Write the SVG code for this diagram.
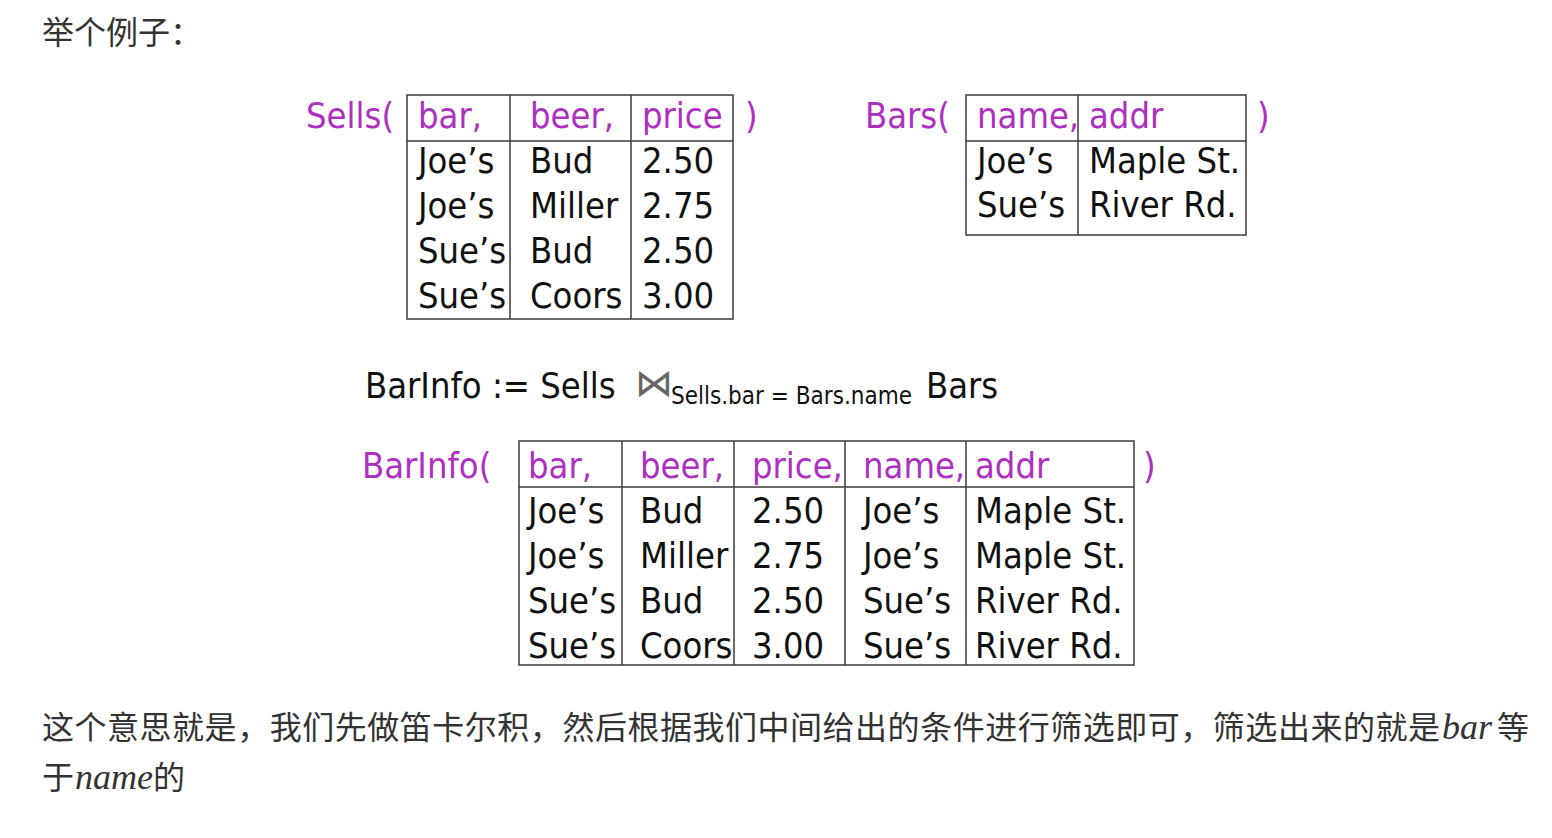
<svg xmlns="http://www.w3.org/2000/svg" width="1552" height="838" viewBox="0 0 1552 838">
<style>
.cjk{font-family:"Noto Sans CJK SC","Noto Sans",sans-serif;font-size:32px;fill:#333}
.mi{font-family:"Liberation Serif","DejaVu Serif",serif;font-style:italic;font-size:36px;fill:#333}
.t{font-family:"DejaVu Sans Condensed","DejaVu Sans",sans-serif;font-stretch:condensed;font-size:36px;fill:#111}
.h{font-family:"DejaVu Sans Condensed","DejaVu Sans",sans-serif;font-stretch:condensed;font-size:36px;fill:#AE30C0}
.sub{font-family:"DejaVu Sans Condensed","DejaVu Sans",sans-serif;font-stretch:condensed;font-size:24px;fill:#111}
.box{fill:none;stroke:#3a3a3a;stroke-width:1.5}
.ln{stroke:#3a3a3a;stroke-width:1.5}
</style>
<rect width="1552" height="838" fill="#fff"/>
<text class="cjk" x="42" y="44">举个例子：</text>

<g id="sells">
<text class="h" x="306" y="128">Sells(</text>
<rect class="box" x="407" y="95" width="326" height="224"/>
<line class="ln" x1="407" y1="141" x2="733" y2="141"/>
<line class="ln" x1="510" y1="95" x2="510" y2="319"/>
<line class="ln" x1="631" y1="95" x2="631" y2="319"/>
<text class="h" x="418" y="128">bar,</text>
<text class="h" x="530" y="128">beer,</text>
<text class="h" x="642" y="128">price</text>
<text class="h" x="745" y="128">)</text>
<text class="t" x="418" y="173">Joe’s</text><text class="t" x="530" y="173">Bud</text><text class="t" x="642" y="173">2.50</text>
<text class="t" x="418" y="218">Joe’s</text><text class="t" x="530" y="218">Miller</text><text class="t" x="642" y="218">2.75</text>
<text class="t" x="418" y="263">Sue’s</text><text class="t" x="530" y="263">Bud</text><text class="t" x="642" y="263">2.50</text>
<text class="t" x="418" y="308">Sue’s</text><text class="t" x="530" y="308">Coors</text><text class="t" x="642" y="308">3.00</text>
</g>

<g id="bars">
<text class="h" x="865" y="128">Bars(</text>
<rect class="box" x="966" y="95" width="280" height="140"/>
<line class="ln" x1="966" y1="141" x2="1246" y2="141"/>
<line class="ln" x1="1078" y1="95" x2="1078" y2="235"/>
<text class="h" x="977" y="128">name,</text>
<text class="h" x="1089" y="128">addr</text>
<text class="h" x="1257" y="128">)</text>
<text class="t" x="977" y="173">Joe’s</text><text class="t" x="1089" y="173">Maple St.</text>
<text class="t" x="977" y="217">Sue’s</text><text class="t" x="1089" y="217">River Rd.</text>
</g>

<g id="formula">
<text class="t" x="365" y="398">BarInfo := Sells</text>
<text x="635" y="396" font-family="DejaVu Sans,sans-serif" font-weight="200" font-size="38" fill="#666">⋈</text>
<text class="sub" x="671" y="404">Sells.bar = Bars.name</text>
<text class="t" x="926" y="398">Bars</text>
</g>

<g id="barinfo">
<text class="h" x="362" y="478">BarInfo(</text>
<rect class="box" x="519" y="441" width="615" height="224"/>
<line class="ln" x1="519" y1="487" x2="1134" y2="487"/>
<line class="ln" x1="622" y1="441" x2="622" y2="665"/>
<line class="ln" x1="734" y1="441" x2="734" y2="665"/>
<line class="ln" x1="845" y1="441" x2="845" y2="665"/>
<line class="ln" x1="966" y1="441" x2="966" y2="665"/>
<text class="h" x="528" y="478">bar,</text>
<text class="h" x="640" y="478">beer,</text>
<text class="h" x="752" y="478">price,</text>
<text class="h" x="863" y="478">name,</text>
<text class="h" x="975" y="478">addr</text>
<text class="h" x="1143" y="478">)</text>
<text class="t" x="528" y="523">Joe’s</text><text class="t" x="640" y="523">Bud</text><text class="t" x="752" y="523">2.50</text><text class="t" x="863" y="523">Joe’s</text><text class="t" x="975" y="523">Maple St.</text>
<text class="t" x="528" y="568">Joe’s</text><text class="t" x="640" y="568">Miller</text><text class="t" x="752" y="568">2.75</text><text class="t" x="863" y="568">Joe’s</text><text class="t" x="975" y="568">Maple St.</text>
<text class="t" x="528" y="613">Sue’s</text><text class="t" x="640" y="613">Bud</text><text class="t" x="752" y="613">2.50</text><text class="t" x="863" y="613">Sue’s</text><text class="t" x="975" y="613">River Rd.</text>
<text class="t" x="528" y="658">Sue’s</text><text class="t" x="640" y="658">Coors</text><text class="t" x="752" y="658">3.00</text><text class="t" x="863" y="658">Sue’s</text><text class="t" x="975" y="658">River Rd.</text>
</g>

<g id="caption">
<text class="cjk" x="42" y="739" textLength="1398" lengthAdjust="spacing">这个意思就是，我们先做笛卡尔积，然后根据我们中间给出的条件进行筛选即可，筛选出来的就是</text>
<text class="mi" x="1442" y="739">bar</text>
<text class="cjk" x="1497" y="739">等</text>
<text class="cjk" x="42" y="789">于</text>
<text class="mi" x="75" y="789">name</text>
<text class="cjk" x="153" y="789">的</text>
</g>
</svg>
